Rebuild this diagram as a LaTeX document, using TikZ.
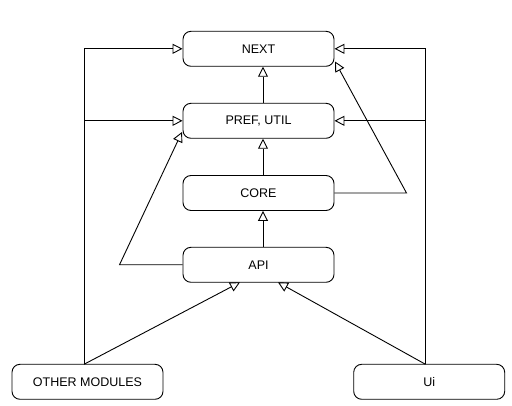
\documentclass[tikz,border=0pt]{standalone}
\usepackage{fontspec}
\setmainfont{Liberation Sans}
\usetikzlibrary{arrows.meta}
\begin{document}
\begin{tikzpicture}[x=1pt,y=-1pt,
  box/.style={draw, line width=0.9pt, rounded corners=8pt, minimum width=151pt, minimum height=35pt, inner sep=0pt, font=\fontsize{12.5}{14}\selectfont},
  inh/.style={line width=0.9pt, -{Triangle[open, length=10pt, width=10pt]}},
  ln/.style={line width=0.9pt}]
\useasboundingbox (0,0) rectangle (512,406);
\node[box] (next) at (258.5,48.8) {NEXT};
\node[box] (pref) at (258.5,120.8) {PREF, UTIL};
\node[box] (core) at (258.5,193) {CORE};
\node[box] (api) at (258.5,264.8) {API};
\node[box] (om) at (87.5,381.8) {OTHER MODULES};
\node[box] (ui) at (429.2,381.8) {Ui};
\coordinate (lt) at (84,48.8);
\coordinate (lm) at (84,120.8);
\coordinate (rt) at (425.5,48.8);
\coordinate (rm) at (425.5,120.8);
\coordinate (apil) at (119.5,264.8);
\coordinate (corer) at (406.5,193);
\coordinate (omt) at (84,364.3);
\coordinate (uit) at (425.5,364.3);
\coordinate (nextc) at (335,61.5);
\coordinate (prefc) at (182,132);
\coordinate (apib1) at (240,282.3);
\coordinate (apib2) at (278,282.3);
\coordinate (vx) at (263,0);
% left and right buses
\draw[ln] (omt) -- (lt);
\draw[ln] (uit) -- (rt);
\draw[inh] (lt) -- (next.west);
\draw[inh] (lm) -- (pref.west);
\draw[inh] (rt) -- (next.east);
\draw[inh] (rm) -- (pref.east);
% vertical chain
\draw[inh] (pref.north -| vx) -- (next.south -| vx);
\draw[inh] (core.north -| vx) -- (pref.south -| vx);
\draw[inh] (api.north -| vx) -- (core.south -| vx);
% API -> PREF
\draw[inh] (api.west) -- (apil) -- (prefc);
% CORE -> NEXT
\draw[inh] (core.east) -- (corer) -- (nextc);
% modules -> API
\draw[inh] (omt) -- (apib1);
\draw[inh] (uit) -- (apib2);
\end{tikzpicture}
\end{document}
